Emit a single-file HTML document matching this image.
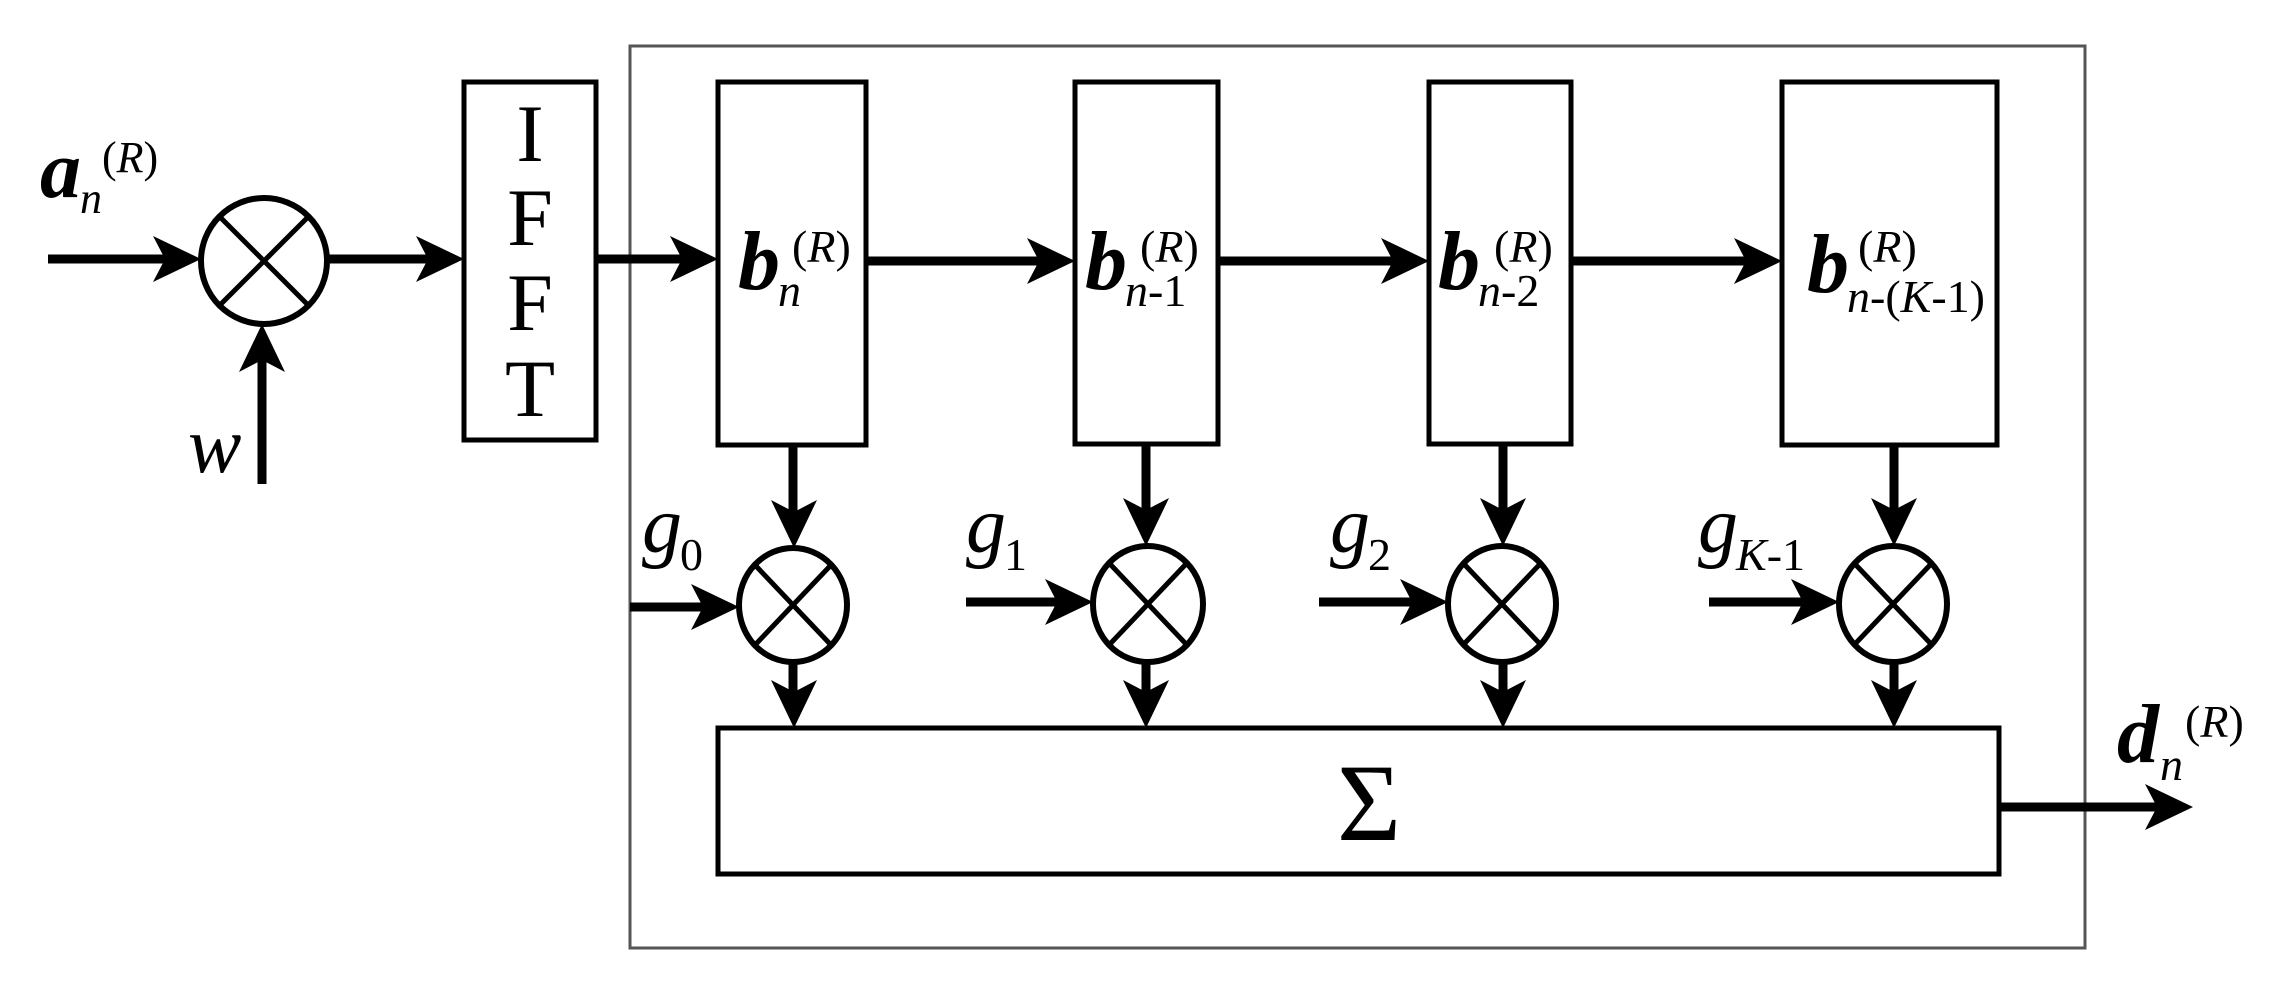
<!DOCTYPE html>
<html><head><meta charset="utf-8"><style>
html,body{margin:0;padding:0;background:#fff;}
svg{display:block;}
</style></head><body>
<svg width="2275" height="993" viewBox="0 0 2275 993" xmlns="http://www.w3.org/2000/svg">
<defs>
<path id="ah" d="M0,0 L-48,-23 L-36,0 L-48,23 Z" fill="#000"/>
</defs>
<!-- outer frame -->
<rect x="630" y="46" width="1455" height="902" fill="none" stroke="#555" stroke-width="3"/>
<g fill="none" stroke="#000">
<line x1="48" y1="259" x2="190" y2="259" stroke-width="9"/>
<ellipse cx="264" cy="261" rx="63" ry="63" stroke-width="6"/>
<line x1="220" y1="217" x2="308" y2="305" stroke-width="5"/>
<line x1="308" y1="217" x2="220" y2="305" stroke-width="5"/>
<line x1="262" y1="484" x2="262" y2="340" stroke-width="9"/>
<line x1="328" y1="259" x2="452" y2="259" stroke-width="9"/>
<rect x="464" y="82" width="132" height="358" stroke-width="5"/>
<line x1="596" y1="259" x2="706" y2="259" stroke-width="9"/>
<rect x="718" y="82" width="148" height="363" stroke-width="5"/>
<rect x="1075" y="82" width="143" height="362" stroke-width="5"/>
<rect x="1429" y="82" width="142" height="362" stroke-width="5"/>
<rect x="1782" y="82" width="215" height="363" stroke-width="5"/>
<line x1="866" y1="261" x2="1063" y2="261" stroke-width="9"/>
<line x1="1218" y1="261" x2="1417" y2="261" stroke-width="9"/>
<line x1="1571" y1="261" x2="1770" y2="261" stroke-width="9"/>
<rect x="718" y="728" width="1281" height="146" stroke-width="5"/>
<line x1="1999" y1="807" x2="2180" y2="807" stroke-width="9"/>
</g>
<use href="#ah" transform="translate(201,259)"/>
<use href="#ah" transform="translate(262,324) rotate(-90)"/>
<use href="#ah" transform="translate(464,259)"/>
<use href="#ah" transform="translate(718,259)"/>
<use href="#ah" transform="translate(1075,261)"/>
<use href="#ah" transform="translate(1429,261)"/>
<use href="#ah" transform="translate(1782,261)"/>
<use href="#ah" transform="translate(2193,807)"/>

<g fill="none" stroke="#000">
<g transform="translate(793,605)">
<line x1="0" y1="-160" x2="0" y2="-68" stroke-width="9"/>
<ellipse cx="0" cy="0" rx="54" ry="57" stroke-width="6"/>
<line x1="-38" y1="-40" x2="38" y2="40" stroke-width="5"/>
<line x1="38" y1="-40" x2="-38" y2="40" stroke-width="5"/>
<line x1="0" y1="57" x2="0" y2="110" stroke-width="9"/>
<line x1="-163" y1="2" x2="-64" y2="2" stroke-width="9"/>
</g>
<g transform="translate(1148,604)">
<line x1="-2" y1="-160" x2="-2" y2="-68" stroke-width="9"/>
<ellipse cx="0" cy="0" rx="55" ry="58" stroke-width="6"/>
<line x1="-38" y1="-40" x2="38" y2="40" stroke-width="5"/>
<line x1="38" y1="-40" x2="-38" y2="40" stroke-width="5"/>
<line x1="-2" y1="58" x2="-2" y2="112" stroke-width="9"/>
<line x1="-182" y1="-2" x2="-65" y2="-2" stroke-width="9"/>
</g>
<g transform="translate(1502,604)">
<line x1="1" y1="-160" x2="1" y2="-68" stroke-width="9"/>
<ellipse cx="0" cy="0" rx="54" ry="58" stroke-width="6"/>
<line x1="-38" y1="-40" x2="38" y2="40" stroke-width="5"/>
<line x1="38" y1="-40" x2="-38" y2="40" stroke-width="5"/>
<line x1="1" y1="58" x2="1" y2="112" stroke-width="9"/>
<line x1="-183" y1="-2" x2="-64" y2="-2" stroke-width="9"/>
</g>
<g transform="translate(1893,604)">
<line x1="1" y1="-160" x2="1" y2="-68" stroke-width="9"/>
<ellipse cx="0" cy="0" rx="54" ry="58" stroke-width="6"/>
<line x1="-38" y1="-40" x2="38" y2="40" stroke-width="5"/>
<line x1="38" y1="-40" x2="-38" y2="40" stroke-width="5"/>
<line x1="1" y1="58" x2="1" y2="112" stroke-width="9"/>
<line x1="-184" y1="-2" x2="-64" y2="-2" stroke-width="9"/>
</g>
</g>
<g>
<use href="#ah" transform="translate(794,548) rotate(90)"/>
<use href="#ah" transform="translate(794,728) rotate(90)"/>
<use href="#ah" transform="translate(739,607)"/>
<use href="#ah" transform="translate(1146,546) rotate(90)"/>
<use href="#ah" transform="translate(1146,728) rotate(90)"/>
<use href="#ah" transform="translate(1093,602)"/>
<use href="#ah" transform="translate(1503,546) rotate(90)"/>
<use href="#ah" transform="translate(1503,728) rotate(90)"/>
<use href="#ah" transform="translate(1448,602)"/>
<use href="#ah" transform="translate(1894,546) rotate(90)"/>
<use href="#ah" transform="translate(1894,728) rotate(90)"/>
<use href="#ah" transform="translate(1839,602)"/>
</g>

<g font-family="'Liberation Serif', 'Times New Roman', 'DejaVu Serif', serif" fill="#000">
<text x="40" y="197" font-size="82" font-weight="bold" font-style="italic">a</text>
<text x="80" y="213" font-size="44" font-style="italic">n</text>
<text x="102" y="172" font-size="44">(<tspan font-style="italic">R</tspan>)</text>
<text x="188" y="472" font-size="80" font-style="italic">w</text>

<g font-size="82" text-anchor="middle">
<text x="530" y="161">I</text>
<text x="530" y="245">F</text>
<text x="530" y="330">F</text>
<text x="530" y="416">T</text>
</g>

<text x="738" y="289" font-size="84" font-weight="bold" font-style="italic">b</text>
<text x="778" y="306" font-size="46" font-style="italic">n</text>
<text x="792" y="262" font-size="46">(<tspan font-style="italic">R</tspan>)</text>

<text x="1085" y="289" font-size="84" font-weight="bold" font-style="italic">b</text>
<text x="1125" y="306" font-size="46"><tspan font-style="italic">n</tspan>-1</text>
<text x="1140" y="262" font-size="46">(<tspan font-style="italic">R</tspan>)</text>

<text x="1438" y="289" font-size="84" font-weight="bold" font-style="italic">b</text>
<text x="1478" y="306" font-size="46"><tspan font-style="italic">n</tspan>-2</text>
<text x="1494" y="262" font-size="46">(<tspan font-style="italic">R</tspan>)</text>

<text x="1807" y="292" font-size="84" font-weight="bold" font-style="italic">b</text>
<text x="1847" y="312" font-size="46"><tspan font-style="italic">n</tspan>-(<tspan font-style="italic">K</tspan>-1)</text>
<text x="1858" y="262" font-size="46">(<tspan font-style="italic">R</tspan>)</text>

<text x="642" y="552" font-size="80" font-style="italic">g</text>
<text x="680" y="570" font-size="46">0</text>
<text x="966" y="552" font-size="80" font-style="italic">g</text>
<text x="1004" y="570" font-size="46">1</text>
<text x="1330" y="552" font-size="80" font-style="italic">g</text>
<text x="1368" y="570" font-size="46">2</text>
<text x="1698" y="552" font-size="80" font-style="italic">g</text>
<text x="1736" y="570" font-size="46"><tspan font-style="italic">K</tspan>-1</text>

<text x="1369" y="840" font-size="110" text-anchor="middle">Σ</text>

<text x="2117" y="762" font-size="84" font-weight="bold" font-style="italic">d</text>
<text x="2160" y="780" font-size="46" font-style="italic">n</text>
<text x="2185" y="737" font-size="46">(<tspan font-style="italic">R</tspan>)</text>
</g>
</svg>
</body></html>
